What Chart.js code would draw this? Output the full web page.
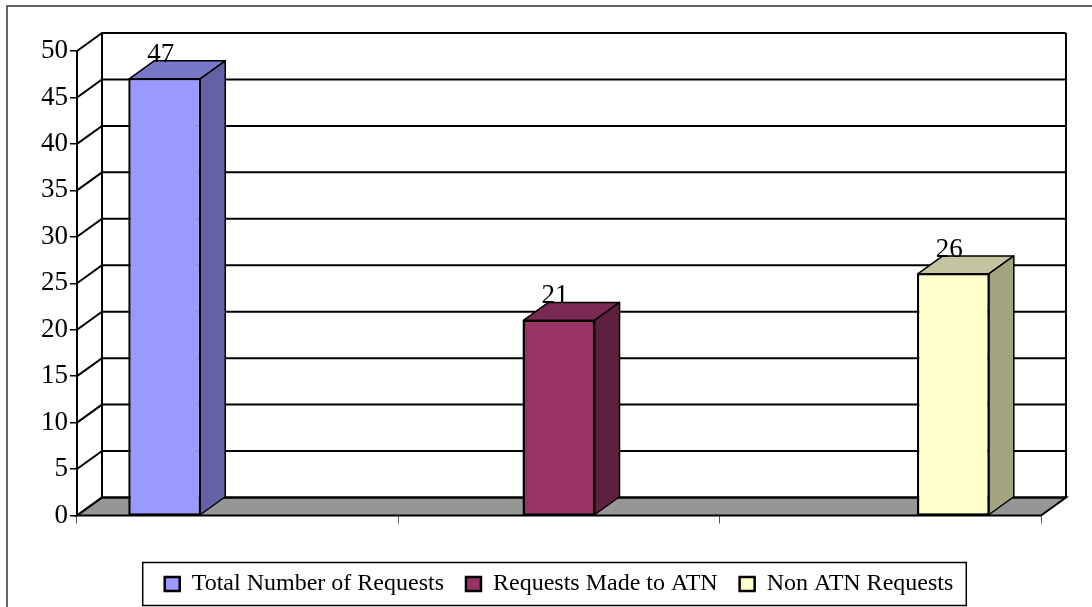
<!DOCTYPE html>
<html>
<head>
<meta charset="utf-8">
<script src="https://cdn.jsdelivr.net/npm/chart.js@4/dist/chart.umd.min.js"></script>
<style>
  html, body { margin: 0; padding: 0; background: #ffffff; }
  canvas { display: block; }
</style>
</head>
<body>
<canvas id="c" width="1092" height="607"></canvas>
<script>
// ---- data ----
const categories = ['Total Number of Requests', 'Requests Made to ATN', 'Non ATN Requests'];
const seriesNames = ['Total Number of Requests', 'Requests Made to ATN', 'Non ATN Requests'];
const seriesValues = [47, 21, 26];
const yMin = 0;
const yMax = 50;
const yStep = 5;

// ---- styles ----
const frontColors = ['#9999FF', '#993366', '#FFFFCC'];
const topColors   = ['#7878C8', '#7A2952', '#C4C4A0'];
const sideColors  = ['#6262A4', '#5F2040', '#A3A380'];
const DX = 25, DY = 18;
const serif = "'Liberation Serif', 'Times New Roman', serif";

const datasets = seriesNames.map((name, i) => ({
  label: name,
  data: categories.map((c, j) => (j === i ? seriesValues[i] : null)),
  backgroundColor: frontColors[i],
  borderColor: '#000000',
  borderWidth: 1.5,
  borderSkipped: false
}));

const threeD = {
  id: 'threeD',
  beforeDraw(chart) {
    const ctx = chart.ctx;
    ctx.save();
    ctx.fillStyle = '#ffffff';
    ctx.fillRect(0, 0, chart.width, chart.height);
    ctx.strokeStyle = '#333333';
    ctx.lineWidth = 1.5;
    ctx.strokeRect(7, 6, chart.width + 20, chart.height + 20);
    ctx.restore();
  },
  beforeDatasetsDraw(chart) {
    const ctx = chart.ctx;
    const a = chart.chartArea;
    const y = chart.scales.y;
    const L = a.left, R = a.right;
    const B = y.getPixelForValue(yMin);
    const T = y.getPixelForValue(yMax);
    ctx.save();
    // floor
    ctx.beginPath();
    ctx.moveTo(L, B); ctx.lineTo(R, B); ctx.lineTo(R + DX, B - DY); ctx.lineTo(L + DX, B - DY); ctx.closePath();
    ctx.fillStyle = '#969696';
    ctx.fill();
    ctx.strokeStyle = '#000000';
    ctx.lineWidth = 2;
    ctx.stroke();
    // grid on side wall and back wall
    ctx.beginPath();
    y.ticks.forEach(t => {
      const py = y.getPixelForValue(t.value);
      ctx.moveTo(L, py);
      ctx.lineTo(L + DX, py - DY);
      ctx.lineTo(R + DX, py - DY);
    });
    // back wall verticals
    ctx.moveTo(L + DX, T - DY); ctx.lineTo(L + DX, B - DY);
    ctx.moveTo(R + DX, T - DY); ctx.lineTo(R + DX, B - DY);
    // front value axis
    ctx.moveTo(L, T); ctx.lineTo(L, B);
    ctx.stroke();
    ctx.restore();
  },
  afterDatasetsDraw(chart) {
    const ctx = chart.ctx;
    ctx.save();
    ctx.lineWidth = 1.5;
    ctx.strokeStyle = '#000000';
    ctx.lineJoin = 'round';
    chart.data.datasets.forEach((ds, i) => {
      const meta = chart.getDatasetMeta(i);
      meta.data.forEach((el, j) => {
        const v = ds.data[j];
        if (v === null || v === undefined) return;
        const p = el.getProps(['x', 'y', 'base', 'width'], true);
        const l = p.x - p.width / 2, r = p.x + p.width / 2;
        const top = p.y, base = p.base;
        // top face
        ctx.beginPath();
        ctx.moveTo(l, top); ctx.lineTo(r, top); ctx.lineTo(r + DX, top - DY); ctx.lineTo(l + DX, top - DY); ctx.closePath();
        ctx.fillStyle = topColors[i];
        ctx.fill(); ctx.stroke();
        // side face
        ctx.beginPath();
        ctx.moveTo(r, top); ctx.lineTo(r + DX, top - DY); ctx.lineTo(r + DX, base - DY); ctx.lineTo(r, base); ctx.closePath();
        ctx.fillStyle = sideColors[i];
        ctx.fill(); ctx.stroke();
        // front outline
        ctx.strokeRect(l, top, p.width, base - top);
        // value label
        ctx.fillStyle = '#000000';
        ctx.font = '27px ' + serif;
        ctx.textAlign = 'center';
        ctx.textBaseline = 'alphabetic';
        ctx.fillText(String(v), p.x - 4, top - DY + 1);
      });
    });
    ctx.restore();
  },
  afterDraw(chart) {
    const lg = chart.legend;
    if (!lg || !lg.legendHitBoxes || !lg.legendHitBoxes.length) return;
    const hb = lg.legendHitBoxes;
    const first = hb[0], last = hb[hb.length - 1];
    const cy = first.top + first.height / 2;
    const ctx = chart.ctx;
    ctx.save();
    ctx.strokeStyle = '#000000';
    ctx.lineWidth = 1.5;
    const x0 = first.left - 22, x1 = last.left + last.width + 13;
    ctx.strokeRect(x0, cy - 21.5, x1 - x0, 43);
    ctx.restore();
  }
};

new Chart(document.getElementById('c'), {
  type: 'bar',
  data: { labels: categories, datasets: datasets },
  options: {
    responsive: false,
    animation: false,
    devicePixelRatio: 1,
    layout: { padding: { top: 51, right: 51, bottom: 1, left: 0 } },
    datasets: { bar: { categoryPercentage: 0.681, barPercentage: 0.974 } },
    scales: {
      x: {
        offset: true,
        grid: { display: true, drawOnChartArea: false, drawTicks: true, tickLength: 8, color: '#555555', lineWidth: 1, offset: true },
        border: { display: false },
        ticks: { display: false },
        afterFit(s) { s.height = 34.5; }
      },
      y: {
        min: yMin, max: yMax,
        ticks: { stepSize: yStep, color: '#000000', font: { family: serif, size: 27 }, padding: 2 },
        grid: { display: true, drawOnChartArea: false, drawTicks: true, tickLength: 7, color: '#000000', lineWidth: 1.5 },
        border: { display: false },
        afterFit(s) { s.width = 77; }
      }
    },
    plugins: {
      legend: {
        display: true,
        position: 'bottom',
        fullSize: false,
        labels: {
          boxWidth: 15, boxHeight: 14, padding: 22, color: '#000000',
          font: { family: serif, size: 24 },
          generateLabels(chart) {
            const items = Chart.defaults.plugins.legend.labels.generateLabels(chart);
            items.forEach(it => { it.lineWidth = 2.5; });
            return items;
          }
        }
      },
      tooltip: { enabled: false }
    }
  },
  plugins: [threeD]
});
</script>
</body>
</html>
